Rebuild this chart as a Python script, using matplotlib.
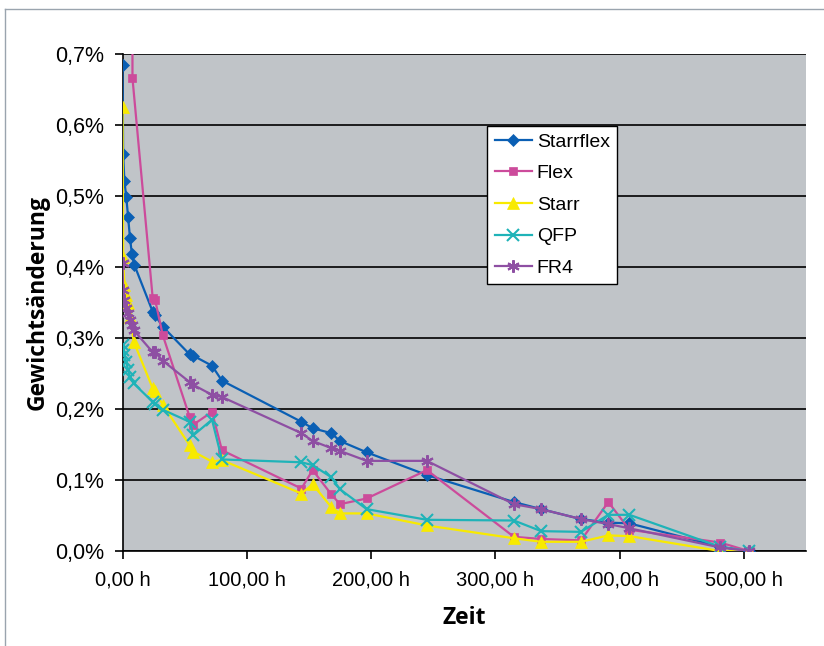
""" Gewichtsänderung verschiedener Leiterplattenmaterialien über der Zeit """

import matplotlib
matplotlib.use("Agg")
import matplotlib.pyplot as plt
from matplotlib.lines import Line2D
from matplotlib.ticker import FuncFormatter, MultipleLocator

# Messzeitpunkte in Stunden und Gewichtsänderung in Prozent
starrflex_t = [0, 0.5, 1.5, 3, 4.5, 6, 7.5, 9.5, 24.3, 26.2, 32.4, 54, 57, 72, 80,
               144, 153, 168, 175, 196.5, 245, 315, 337, 369, 391, 408, 481, 504]
starrflex_y = [0.685, 0.559, 0.521, 0.499, 0.470, 0.441, 0.419, 0.403, 0.337, 0.332,
               0.316, 0.277, 0.275, 0.261, 0.240, 0.182, 0.173, 0.166, 0.155, 0.139,
               0.107, 0.069, 0.059, 0.045, 0.040, 0.039, 0.006, 0.0]

flex_t = [8, 8, 24.3, 26.2, 32.4, 54, 57, 72, 80, 144, 153, 168, 175, 196.5,
          245, 315, 337, 369, 391, 408, 481, 504]
flex_y = [1.0, 0.666, 0.356, 0.354, 0.304, 0.189, 0.178, 0.196, 0.142, 0.088, 0.114,
          0.080, 0.066, 0.074, 0.114, 0.020, 0.017, 0.015, 0.069, 0.030, 0.012, 0.0]

starr_t = [0, 0.5, 1.5, 3, 4.5, 6, 9, 24.3, 26.2, 32.4, 54, 57, 72, 80, 144, 153,
           168, 175, 196.5, 245, 315, 337, 369, 391, 408, 481, 504]
starr_y = [0.625, 0.414, 0.375, 0.360, 0.350, 0.330, 0.295, 0.229, 0.225, 0.206,
           0.149, 0.140, 0.126, 0.128, 0.081, 0.094, 0.062, 0.053, 0.053, 0.036,
           0.018, 0.013, 0.013, 0.022, 0.021, 0.0, 0.0]

qfp_t = [0, 0.5, 1.5, 3, 4.5, 6, 9, 24.3, 26.2, 32.4, 54, 57, 72, 80, 144, 153,
         168, 175, 196.5, 245, 315, 337, 369, 391, 408, 481, 504]
qfp_y = [0.290, 0.283, 0.276, 0.266, 0.255, 0.245, 0.236, 0.210, 0.207, 0.199,
         0.182, 0.163, 0.185, 0.129, 0.125, 0.121, 0.104, 0.087, 0.059, 0.044,
         0.043, 0.028, 0.027, 0.051, 0.051, 0.006, 0.0]

fr4_t = [0, 0.5, 1.5, 3, 4.5, 6, 7.5, 9, 24.3, 26.2, 32.4, 54, 57, 72, 80, 144,
         153, 168, 175, 196.5, 245, 315, 337, 369, 391, 408, 481, 504]
fr4_y = [0.406, 0.368, 0.354, 0.342, 0.335, 0.325, 0.318, 0.311, 0.280, 0.280,
         0.268, 0.238, 0.234, 0.220, 0.217, 0.166, 0.155, 0.145, 0.141, 0.127,
         0.127, 0.066, 0.059, 0.045, 0.038, 0.032, 0.005, 0.0]

series = [
    ("Starrflex", starrflex_t, starrflex_y, "#0a5fb4", "D", 6),
    ("Flex", flex_t, flex_y, "#cc4b9b", "s", 6),
    ("Starr", starr_t, starr_y, "#f8ea00", "^", 8),
    ("QFP", qfp_t, qfp_y, "#1fb3b8", "x", 8),
    ("FR4", fr4_t, fr4_y, "#8e4fa3", (6, 2, 0), 9),
]

plt.rcParams["font.family"] = ["Liberation Sans", "DejaVu Sans"]

fig = plt.figure(figsize=(8.24, 6.46), dpi=100)
ax = fig.add_axes([0.1487, 0.147, 0.8293, 0.7694])
ax.set_facecolor("#c0c4c8")

for name, t, y, colour, marker, ms in series:
    ax.plot(t, y, color=colour, marker=marker, markersize=ms, linewidth=1.6,
            markeredgewidth=1.5 if marker in ("x", (6, 2, 0)) else 0.5,
            markeredgecolor=colour, label=name, zorder=3)

ax.set_xlim(0, 550)
ax.set_ylim(0, 0.7)
ax.yaxis.set_major_locator(MultipleLocator(0.1))
ax.set_xticks([0, 100, 200, 300, 400, 500])
ax.yaxis.set_major_formatter(FuncFormatter(lambda v, p: f"{v:.1f}%".replace(".", ",")))
ax.xaxis.set_major_formatter(FuncFormatter(lambda v, p: f"{v:.2f} h".replace(".", ",")))
ax.grid(axis="y", color="black", linewidth=1.2, zorder=1)
ax.set_axisbelow(True)

for side in ("top", "right"):
    ax.spines[side].set_visible(False)
for side in ("left", "bottom"):
    ax.spines[side].set_linewidth(1.2)
ax.tick_params(axis="y", labelsize=15.5, width=1.2, length=6, direction="out", pad=7)
ax.tick_params(axis="x", labelsize=14.5, width=1.2, length=6, direction="out", pad=8)

ax.set_xlabel("Zeit", fontsize=16.5, fontweight="bold", family="Open Sans", labelpad=12)
ax.set_ylabel("Gewichtsänderung", fontsize=16.5, fontweight="bold", family="Open Sans",
              labelpad=4)

leg = ax.legend(loc="upper left", bbox_to_anchor=(0.534, 0.856), fontsize=14,
                frameon=True, fancybox=False, edgecolor="black", framealpha=1,
                handlelength=1.9, handletextpad=0.25, borderpad=0.38,
                labelspacing=0.72, borderaxespad=0)
leg.get_frame().set_linewidth(1.0)

# dünner Rahmen um die Grafik
fig.add_artist(Line2D([5 / 824, 5 / 824], [0, 1 - 9 / 646], color="#9aa4ae", linewidth=1))
fig.add_artist(Line2D([5 / 824, 1], [1 - 9 / 646, 1 - 9 / 646], color="#9aa4ae", linewidth=1))

fig.savefig("out.png", dpi=100)
